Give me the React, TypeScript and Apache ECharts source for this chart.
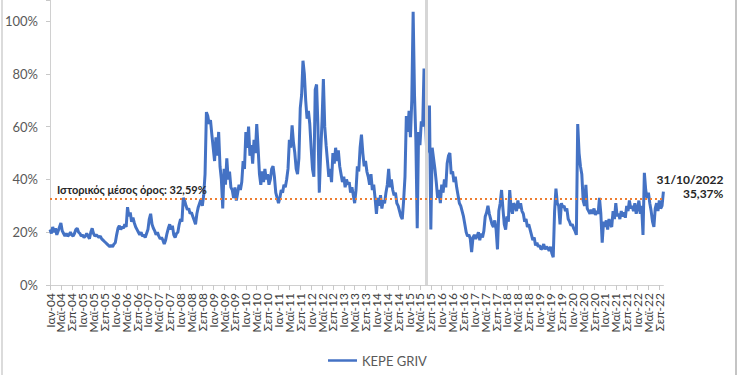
import React, { useEffect, useRef } from 'react';
import * as echarts from 'echarts';

// ---- Data (two readings per month, first and second half) ----
const START_YEAR = 2004;
const MONTHS = ['Ιαν', 'Φεβ', 'Μαρ', 'Απρ', 'Μαϊ', 'Ιουν', 'Ιουλ', 'Αυγ', 'Σεπ', 'Οκτ', 'Νοε', 'Δεκ'];

const y2004 = [21, 19.5, 22, 20, 21.5, 19, 20.5, 22, 23.5, 20.5, 19.5, 18.5, 19.5, 18.5, 19, 20, 19, 18.5, 19.5, 21, 21.5, 20, 19.5, 18.5];
const y2005 = [19, 18, 18.5, 19.5, 18.5, 17.5, 20, 21.5, 19.5, 18.5, 19, 18.5, 18, 18.5, 17.5, 17, 16.5, 16, 15.5, 15, 14.5, 15, 14.5, 15.5];
const y2006 = [16, 19, 21.5, 22.5, 21, 22, 21.5, 23, 22, 29.5, 26, 27.5, 24, 25.5, 23.5, 22, 21, 20, 19, 20, 18.5, 19, 18, 19.5];
const y2007 = [21, 25, 27, 23, 21.5, 20.5, 19, 20, 18.5, 17.5, 18, 17, 15.5, 17, 19.5, 21.5, 23, 21, 22.5, 19, 18, 19.5, 20, 23];
const y2008 = [25, 24, 33, 32, 30, 28.5, 29, 27, 27.5, 26, 24.5, 23, 27, 29.5, 31, 32.5, 30, 34, 42, 65.5, 64, 61, 62.5, 57];
const y2009 = [52, 47, 56, 49, 58, 45, 40, 29, 44, 38, 48, 40, 43, 37, 36, 33, 37, 32, 35, 38, 36, 39, 47, 44];
const y2010 = [58, 52, 60, 49, 53, 46, 55, 50, 61, 52, 42, 38, 43, 39, 44, 40, 42, 38, 40, 44, 45, 41, 35, 33];
const y2011 = [31, 33, 36, 35, 38, 37, 40, 44, 55, 52, 60.5, 54, 50, 44, 42, 48, 67, 72, 85, 80, 70, 63, 66, 61];
const y2012 = [52, 44, 41, 74, 76, 60, 35, 50, 62, 78, 60, 53, 47, 41, 44, 39, 50, 46, 52, 47, 51, 45, 42, 39];
const y2013 = [41, 37, 40, 38, 39, 35, 37, 34, 31, 36, 45, 43, 52, 57, 50, 45, 47, 43, 41, 38, 42, 36, 38, 33];
const y2014 = [27, 33, 30, 34, 29, 32, 31, 35, 38, 44, 37, 40, 36, 34, 35, 31, 30, 28, 26, 25, 32, 41, 64, 58];
const y2015 = [66, 56, 70, 103.5, 72, 55, 21.5, 58, 53, 62, 60, 82, 64, 50, 55, 68, 21, 52, 48, 44, 39, 33, 36, 31];
const y2016 = [38, 35, 40, 37, 46, 49, 50, 42, 43, 39, 41, 37, 34, 31, 30, 28, 26, 23, 20, 18.5, 19, 17.5, 12.5, 18];
const y2017 = [19, 17.5, 18.5, 20, 17, 19.5, 18, 20.5, 26, 27.5, 30, 27, 25, 23, 22, 24.5, 21, 13.5, 28, 31, 36, 29, 23, 21];
const y2018 = [26, 24, 36, 29, 27, 31, 30, 28, 32, 29, 31, 28, 27, 24, 25, 22, 23, 21, 19, 17, 18, 15, 16, 14.5];
const y2019 = [15, 13.5, 14, 15.5, 13.5, 14.5, 14, 13, 14.5, 12, 10.5, 28, 36.5, 31, 30, 23, 31, 29.5, 30, 28, 29, 25, 24, 22.5];
const y2020 = [23, 21.5, 20.5, 19, 61, 50, 45, 42, 32, 30, 38, 29, 28, 27, 28.5, 27, 29, 26.5, 28, 27, 33, 27, 16, 24];
const y2021 = [22, 24.5, 21, 25, 23, 22, 28, 25, 31, 26, 27, 25, 28, 26, 27.5, 25.5, 30, 28, 32, 29, 30, 28, 31, 27];
const y2022 = [29, 32, 27, 30, 19, 42.5, 36, 33, 35, 31, 28, 24, 22, 29, 31, 28, 32, 29, 30, 35.37];

const YEARS = [y2004, y2005, y2006, y2007, y2008, y2009, y2010, y2011, y2012, y2013, y2014, y2015, y2016, y2017, y2018, y2019, y2020, y2021, y2022];

const SERIES_NAME = 'KEPE GRIV';
const HIST_MEAN = 32.59;
const HIST_MEAN_LABEL = 'Ιστορικός μέσος όρος: 32,59%';
const LAST_LABEL = '31/10/2022\n35,37%';
const EVENT_INDEX = 277; // second half of July 2015 (half-month index)
const LABEL_EVERY = 8; // every 4 months = 8 half-months
const Y_TOP = 108; // top edge of the plot (image is cropped just above 100%)

const FONT = "Lato, 'Noto Sans', 'Open Sans', sans-serif";

function monthLabel(m: number) {
  const y = START_YEAR + Math.floor(m / 12);
  return MONTHS[m % 12] + '-' + String(y % 100).padStart(2, '0');
}

const values: number[] = YEARS.flat();
const categories: string[] = values.map((_, i) => {
  const m = Math.floor(i / 2);
  return monthLabel(m) + (i % 2 === 0 ? 'a' : 'b');
});
const lastIndex = values.length - 1;

export default function App() {
  const ref = useRef<HTMLDivElement>(null);
  useEffect(() => {
    if (!ref.current) return;
    const chart = echarts.init(ref.current, undefined, { renderer: 'svg' });
    chart.setOption({
      animation: false,
      backgroundColor: '#ffffff',
      textStyle: { fontFamily: FONT },
      grid: { left: 50, right: 86.6, top: 0, bottom: 90, containLabel: false },
      xAxis: {
        type: 'category',
        data: categories,
        boundaryGap: false,
        axisLine: { show: true, lineStyle: { color: '#d0d0d0', width: 1 } },
        axisTick: {
          show: true,
          length: 5,
          lineStyle: { color: '#c8c8c8' },
          interval: (i: number) => i % LABEL_EVERY === 0,
        },
        splitLine: { show: false },
        axisLabel: {
          interval: 0,
          rotate: 90,
          margin: 8,
          fontSize: 12,
          color: '#404040',
          fontFamily: FONT,
          formatter: (_v: string, i: number) => (i % LABEL_EVERY === 0 ? monthLabel(i / 2) : ''),
        },
      },
      yAxis: {
        type: 'value',
        min: 0,
        max: Y_TOP,
        interval: 20,
        axisLine: { show: true, lineStyle: { color: '#d0d0d0', width: 1 } },
        axisTick: { show: true, length: 4, lineStyle: { color: '#c8c8c8' } },
        splitLine: { show: false },
        axisLabel: {
          fontSize: 13,
          color: '#595959',
          margin: 12,
          fontFamily: FONT,
          formatter: (v: number) => (v > 100 ? '' : v + '%'),
        },
      },
      legend: {
        data: [{ name: SERIES_NAME, icon: 'rect' }],
        left: 323,
        top: 349,
        itemWidth: 29,
        itemHeight: 2.5,
        itemGap: 4,
        textStyle: { fontSize: 13, color: '#595959', fontFamily: FONT },
      },
      graphic: [
        { type: 'line', shape: { x1: 2, y1: 0, x2: 2, y2: 375 }, style: { stroke: '#cfcfcf', lineWidth: 1.5 } },
        { type: 'line', shape: { x1: 736, y1: 0, x2: 736, y2: 375 }, style: { stroke: '#c4c4c4', lineWidth: 2 } },
      ],
      series: [
        {
          type: 'line',
          name: 'event',
          data: [],
          z: 1,
          silent: true,
          markLine: {
            silent: true,
            symbol: 'none',
            label: { show: false },
            lineStyle: { color: '#d6d6d6', width: 3, type: 'solid' },
            data: [{ xAxis: EVENT_INDEX }],
          },
        },
        {
          type: 'line',
          name: SERIES_NAME,
          data: values,
          showSymbol: false,
          symbol: 'none',
          clip: false,
          z: 3,
          lineStyle: { color: '#4472C4', width: 3 },
          itemStyle: { color: '#4472C4' },
          markLine: {
            silent: true,
            symbol: 'none',
            lineStyle: { color: '#ED7D31', width: 2, type: [2, 3] },
            label: {
              show: true,
              position: 'insideStartTop',
              distance: [7, 4],
              formatter: HIST_MEAN_LABEL,
              fontSize: 11,
              fontWeight: 'bold',
              color: '#262626',
              fontFamily: FONT,
            },
            data: [{ yAxis: HIST_MEAN }],
          },
          markPoint: {
            silent: true,
            symbol: 'circle',
            symbolSize: 1,
            itemStyle: { color: 'rgba(0,0,0,0)' },
            label: {
              show: true,
              position: 'inside',
              offset: [60, -5],
              align: 'right',
              verticalAlign: 'middle',
              formatter: LAST_LABEL,
              fontSize: 12,
              lineHeight: 14,
              fontWeight: 'bold',
              color: '#262626',
              fontFamily: FONT,
            },
            data: [{ coord: [lastIndex, values[lastIndex]] }],
          },
        },
      ],
    });
    return () => chart.dispose();
  }, []);
  return (
    <div
      ref={ref}
      style={{ position: 'fixed', left: 0, top: 0, width: 750, height: 375, background: '#fff' }}
    />
  );
}
